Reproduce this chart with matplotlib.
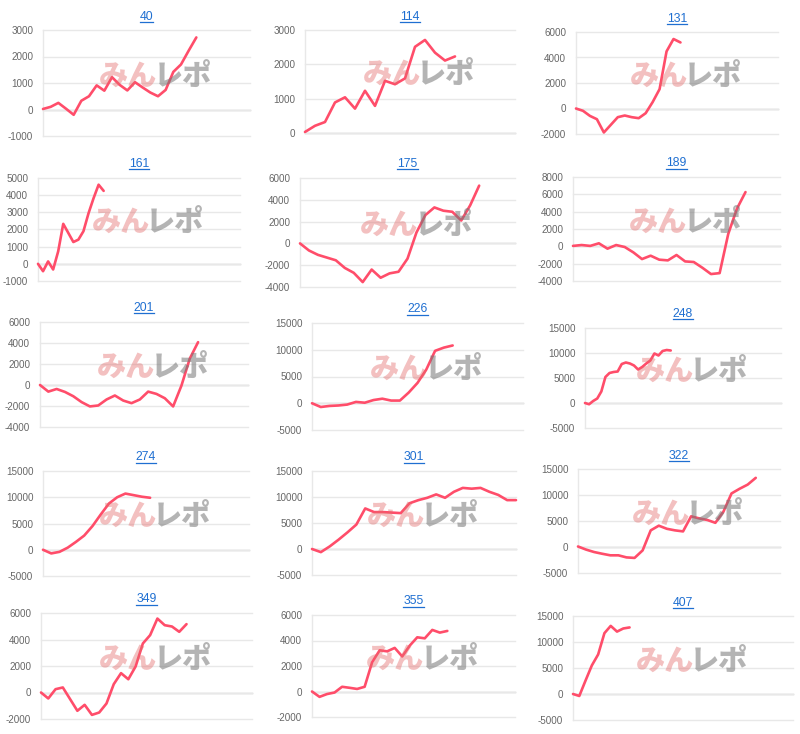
import numpy as np
import matplotlib
matplotlib.use('Agg')
import matplotlib.pyplot as plt
from matplotlib.lines import Line2D

plt.rcParams['axes.unicode_minus'] = False

# ---------------- data ----------------
titles = ['40', '114', '131', '161', '175', '189', '201', '226', '248',
          '274', '301', '322', '349', '355', '407']

s40 = [20, 100, 250, 30, -200, 330, 500, 910, 710, 1220, 930, 720, 1030, 830,
       640, 500, 740, 1420, 1700, 2220, 2720]
s114 = [30, 210, 320, 890, 1040, 710, 1230, 790, 1520, 1420, 1590, 2510, 2710,
        2340, 2110, 2230]
s131 = [0, -180, -580, -840, -1880, -1280, -680, -550, -680, -760, -370, 500,
        1520, 4480, 5450, 5180]
s161 = [0, -430, 140, -330, 730, 2330, 1800, 1270, 1410, 1900, 2940, 3820,
        4610, 4250]
s175 = [0, -650, -1050, -1300, -1550, -2250, -2700, -3550, -2400, -3150, -2750,
        -2600, -1400, 1000, 2600, 3300, 3000, 2900, 2100, 3500, 5300]
s189 = [50, 150, 50, 350, -270, 150, -80, -700, -1470, -1080, -1540, -1620,
        -1000, -1740, -1810, -2470, -3200, -3090, 1430, 4330, 6260]
s201 = [0, -630, -380, -660, -1070, -1630, -2040, -1950, -1380, -1000, -1480,
        -1730, -1380, -630, -850, -1260, -2040, -60, 2510, 4080]
s226 = [0, -700, -500, -420, -250, 250, 100, 600, 850, 500, 500, 2000, 3800,
        6300, 9800, 10400, 10800]
s248 = [0, -250, 400, 900, 2300, 5200, 6000, 6200, 6300, 7800, 8100, 7900,
        7500, 6700, 7200, 7900, 8500, 9900, 9500, 10400, 10600, 10500]
s274 = [0, -700, -400, 400, 1500, 2700, 4500, 6700, 8800, 10000, 10700, 10400,
        10100, 9900]
s301 = [0, -600, 500, 1800, 3200, 4700, 7800, 7100, 7100, 7000, 6900, 8800,
        9400, 9850, 10500, 9850, 11000, 11750, 11600, 11750, 11000, 10400, 9400,
        9400]
s322 = [100, -500, -970, -1300, -1600, -1600, -2000, -2100, -650, 3200, 4100,
        3500, 3200, 3000, 5900, 5500, 5200, 4650, 6800, 10300, 11200, 12000,
        13300]
s349 = [0, -450, 250, 380, -500, -1380, -930, -1690, -1510, -830, 630, 1460,
        1000, 1960, 3700, 4330, 5580, 5080, 4980, 4580, 5160]
s355 = [0, -420, -200, -80, 370, 290, 200, 370, 2300, 3230, 3150, 3420, 2750,
        3600, 4250, 4170, 4830, 4620, 4750]
s407 = [0, -380, 2600, 5500, 7600, 11700, 13100, 12000, 12600, 12800]

series = [s40, s114, s131, s161, s175, s189, s201, s226, s248,
          s274, s301, s322, s349, s355, s407]

# number of x-axis category slots for each chart
slots = [28, 22, 30, 41, 25, 25, 26, 25, 49, 26, 24, 26, 30, 28, 36]

# y-axis ranges (min, max, step)
yranges = [(-1000, 3000, 1000), (0, 3000, 1000), (-2000, 6000, 2000),
           (-1000, 5000, 1000), (-4000, 6000, 2000), (-4000, 8000, 2000),
           (-4000, 6000, 2000), (-5000, 15000, 5000), (-5000, 15000, 5000),
           (-5000, 15000, 5000), (-5000, 15000, 5000), (-5000, 15000, 5000),
           (-2000, 6000, 2000), (-2000, 6000, 2000), (-5000, 15000, 5000)]

# ---------------- layout (pixel rectangles: left, right, top, bottom) -------
rects = [(43, 250, 30, 136), (305, 515, 30, 133), (576, 778, 32, 134),
         (38, 240, 178, 281), (300, 515, 178, 287), (573, 780, 177, 281),
         (40, 248, 322, 427), (312, 523, 323, 430), (585, 781, 328, 428),
         (43, 249, 471, 576), (312, 516, 471, 575), (578, 780, 469, 573),
         (41, 252, 613, 719), (312, 515, 615, 717), (573, 793, 616, 720)]

W, H = 800, 734
LINE = '#ff4d6a'
TITLE = '#1f6fd1'
GRID = '#e8e8e8'
ZERO = '#c4c4c4'
CJK = ['Noto Sans CJK JP', 'DejaVu Sans']

fig = plt.figure(figsize=(W / 100, H / 100), dpi=100)
fig.patch.set_facecolor('white')

title_texts = []
for title, vals, n, (lo, hi, step), (L, R, T, B) in zip(
        titles, series, slots, yranges, rects):
    w, h = R - L, B - T
    ax = fig.add_axes([L / W, 1 - B / H, w / W, h / H])
    ax.set_facecolor('none')
    ax.plot(np.arange(len(vals)), vals, color=LINE, lw=1.9,
            solid_joinstyle='round', solid_capstyle='round', zorder=3,
            clip_on=False)
    ax.set_xlim(0, n - 1)
    ax.set_ylim(lo, hi)
    ax.set_yticks(np.arange(lo, hi + 1, step))
    ax.set_xticks([])
    ax.yaxis.grid(True, color=GRID, lw=1.0, zorder=0)
    for gl in ax.get_ygridlines():
        gl.set_clip_on(False)
    if lo <= 0 < hi:
        ax.axhline(0, color=ZERO, lw=1.0, zorder=1, clip_on=False)
    for s in ('top', 'right', 'bottom'):
        ax.spines[s].set_visible(False)
    ax.spines['left'].set_color(GRID)
    ax.spines['left'].set_linewidth(1.0)
    ax.tick_params(axis='y', length=0, pad=7, labelsize=7.1,
                   labelcolor='#666666')
    for lab in ax.get_yticklabels():
        lab.set_fontfamily('Liberation Sans')
    t = ax.text(0.5, 1 + 13.5 / h, title, transform=ax.transAxes,
                ha='center', va='center', color=TITLE, fontsize=8.8,
                fontfamily='Liberation Sans')
    title_texts.append(t)
    # watermark logo
    cx = 0.5 + 8 / w
    cy = 0.5 + 7 / h
    ax.text(cx + 3 / w, cy, 'みん', transform=ax.transAxes, ha='right',
            va='center', fontsize=21, fontweight='black', color='#e36a6a',
            alpha=0.42, fontfamily=CJK, zorder=5)
    ax.text(cx - 1 / w, cy, 'レポ', transform=ax.transAxes, ha='left',
            va='center', fontsize=21, fontweight='black', color='#777777',
            alpha=0.55, fontfamily=CJK, zorder=5)

# underline titles (link style)
fig.canvas.draw()
renderer = fig.canvas.get_renderer()
inv = fig.transFigure.inverted()
for t in title_texts:
    bb = t.get_window_extent(renderer)
    (x0, y0), (x1, _) = inv.transform([(bb.x0, bb.y0 + 1), (bb.x1, bb.y0)])
    fig.add_artist(Line2D([x0, x1], [y0, y0], transform=fig.transFigure,
                          color=TITLE, lw=0.9))

fig.savefig('out.png', dpi=100, facecolor='white')
